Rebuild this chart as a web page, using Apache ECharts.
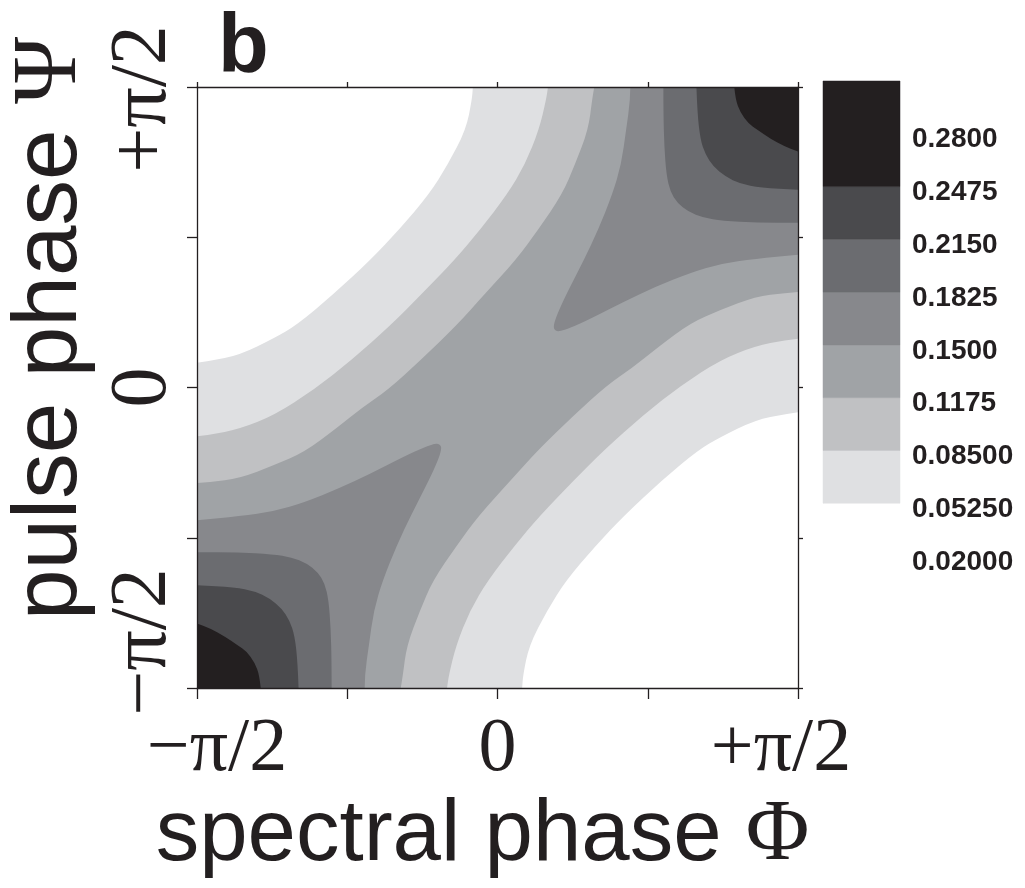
<!DOCTYPE html>
<html>
<head>
<meta charset="utf-8">
<script src="https://cdn.jsdelivr.net/npm/echarts@6/dist/echarts.min.js"></script>
<style>html,body{margin:0;padding:0;background:#fff}#c{width:1025px;height:888px}</style>
</head>
<body>
<div id="c"></div>
<script>
// ---------------- data (phases in units of pi/2) ----------------
const tickValues = [-1, -0.5, 0, 0.5, 1];
const tickText = ['\u2212\u03c0/2', '', '0', '', '+\u03c0/2'];

const levelValues = [0.02, 0.0525, 0.085, 0.1175, 0.15, 0.1825, 0.215, 0.2475, 0.28];
const levelLabels = ['0.02000', '0.05250', '0.08500', '0.1175', '0.1500', '0.1825', '0.2150', '0.2475', '0.2800'];
const colorbarMax = 0.3125;
// fill colours of the bands above 0.0525, 0.085, ... 0.2475 (last band runs to the top)
const bandColors = ['#dfe0e2', '#c0c1c3', '#a0a3a6', '#87888c', '#6b6c70', '#4a4a4d', '#231f20'];

// contour lines: [Phi, Psi]
const c0525_upperLeft = [[-0.082,1],[-0.085,0.958],[-0.105,0.858],[-0.165,0.742],[-0.228,0.642],[-0.328,0.525],[-0.422,0.425],[-0.548,0.308],[-0.668,0.208],[-0.742,0.165],[-0.858,0.108],[-0.958,0.088],[-1,0.082]];
const c0525_lowerRight = [[0.082,-1],[0.085,-0.958],[0.105,-0.858],[0.165,-0.742],[0.228,-0.642],[0.328,-0.525],[0.422,-0.425],[0.548,-0.308],[0.668,-0.208],[0.742,-0.165],[0.858,-0.108],[0.958,-0.088],[1,-0.082]];

const c085_upperLeft = [[0.168,1],[0.162,0.958],[0.138,0.858],[0.092,0.742],[0.032,0.642],[-0.058,0.525],[-0.142,0.425],[-0.255,0.308],[-0.355,0.208],[-0.485,0.092],[-0.612,-0.008],[-0.742,-0.092],[-0.858,-0.138],[-0.958,-0.158],[-1,-0.162]];
const c085_lowerRight = [[-0.168,-1],[-0.162,-0.958],[-0.138,-0.858],[-0.092,-0.742],[-0.032,-0.642],[0.058,-0.525],[0.142,-0.425],[0.255,-0.308],[0.355,-0.208],[0.485,-0.092],[0.612,0.008],[0.742,0.092],[0.858,0.138],[0.958,0.158],[1,0.162]];

const c1175_upperLeft = [[0.322,1],[0.315,0.958],[0.302,0.858],[0.258,0.742],[0.215,0.642],[0.135,0.525],[0.062,0.425],[-0.045,0.308],[-0.135,0.208],[-0.255,0.092],[-0.365,-0.008],[-0.448,-0.065],[-0.535,-0.135],[-0.642,-0.215],[-0.742,-0.258],[-0.858,-0.302],[-0.958,-0.315],[-1,-0.318]];
const c1175_lowerRight = [[-0.322,-1],[-0.315,-0.958],[-0.302,-0.858],[-0.258,-0.742],[-0.215,-0.642],[-0.135,-0.525],[-0.062,-0.425],[0.045,-0.308],[0.135,-0.208],[0.255,-0.092],[0.365,0.008],[0.448,0.065],[0.535,0.135],[0.642,0.215],[0.742,0.258],[0.858,0.302],[0.958,0.315],[1,0.318]];

const c15_upperRight = [[0.442,1],[0.442,0.958],[0.428,0.858],[0.412,0.742],[0.382,0.642],[0.335,0.525],[0.288,0.425],[0.228,0.308],[0.198,0.242],[0.186,0.205],[0.19,0.19],[0.205,0.186],[0.242,0.198],[0.308,0.228],[0.425,0.288],[0.525,0.335],[0.642,0.382],[0.742,0.412],[0.858,0.428],[1,0.442]];
const c15_lowerLeft = [[-0.442,-1],[-0.442,-0.958],[-0.428,-0.858],[-0.412,-0.742],[-0.382,-0.642],[-0.335,-0.525],[-0.288,-0.425],[-0.228,-0.308],[-0.198,-0.242],[-0.186,-0.205],[-0.19,-0.19],[-0.205,-0.186],[-0.242,-0.198],[-0.308,-0.228],[-0.425,-0.288],[-0.525,-0.335],[-0.642,-0.382],[-0.742,-0.412],[-0.858,-0.428],[-1,-0.442]];

const c1825_upperRight = [[0.552,1],[0.552,0.915],[0.555,0.802],[0.562,0.708],[0.575,0.652],[0.598,0.615],[0.635,0.585],[0.685,0.565],[0.748,0.555],[0.865,0.548],[1,0.548]];
const c1825_lowerLeft = [[-0.552,-1],[-0.552,-0.915],[-0.555,-0.802],[-0.562,-0.708],[-0.575,-0.652],[-0.598,-0.615],[-0.635,-0.585],[-0.685,-0.565],[-0.748,-0.555],[-0.865,-0.548],[-1,-0.548]];

const c215_upperRight = [[0.662,1],[0.665,0.915],[0.675,0.825],[0.692,0.775],[0.718,0.735],[0.758,0.702],[0.808,0.678],[0.875,0.665],[1,0.658]];
const c215_lowerLeft = [[-0.662,-1],[-0.665,-0.915],[-0.675,-0.825],[-0.692,-0.775],[-0.718,-0.735],[-0.758,-0.702],[-0.808,-0.678],[-0.875,-0.665],[-1,-0.658]];

const c2475_upperRight = [[0.788,1],[0.792,0.958],[0.808,0.915],[0.835,0.878],[0.865,0.858],[0.908,0.828],[0.955,0.802],[1,0.785]];
const c2475_lowerLeft = [[-0.788,-1],[-0.792,-0.958],[-0.808,-0.915],[-0.835,-0.878],[-0.865,-0.858],[-0.908,-0.828],[-0.955,-0.802],[-1,-0.785]];

// ---------------- build filled regions {f > level} ----------------
const AX_MIN = -1, AX_MAX = 1;
const TR = [AX_MAX, AX_MAX], BL = [AX_MIN, AX_MIN];
function band(ul, lr) {   // diagonal band between an upper-left and a lower-right contour
  return [
    { pts: [ul[0], TR], smooth: false },
    { pts: lr.slice().reverse(), smooth: true },
    { pts: [BL], smooth: false },
    { pts: ul.slice().reverse(), smooth: true }
  ];
}
function corner(c, cornerPt) {
  return [{ pts: c, smooth: true }, { pts: [cornerPt], smooth: false }];
}
const regions = [
  { color: bandColors[0], parts: band(c0525_upperLeft, c0525_lowerRight) },
  { color: bandColors[1], parts: band(c085_upperLeft, c085_lowerRight) },
  { color: bandColors[2], parts: band(c1175_upperLeft, c1175_lowerRight) },
  { color: bandColors[3], parts: corner(c15_upperRight, TR) },
  { color: bandColors[3], parts: corner(c15_lowerLeft, BL) },
  { color: bandColors[4], parts: corner(c1825_upperRight, TR) },
  { color: bandColors[4], parts: corner(c1825_lowerLeft, BL) },
  { color: bandColors[5], parts: corner(c215_upperRight, TR) },
  { color: bandColors[5], parts: corner(c215_lowerLeft, BL) },
  { color: bandColors[6], parts: corner(c2475_upperRight, TR) },
  { color: bandColors[6], parts: corner(c2475_lowerLeft, BL) }
];

function buildPath(parts, api) {
  let d = '';
  const f = (p) => p[0].toFixed(2) + ' ' + p[1].toFixed(2);
  parts.forEach(part => {
    const pts = part.pts.map(p => api.coord(p));
    if (part.smooth && pts.length > 2) {
      d += (d ? 'L' : 'M') + f(pts[0]);
      for (let k = 1; k < pts.length - 1; k++) {
        const m = [(pts[k][0] + pts[k + 1][0]) / 2, (pts[k][1] + pts[k + 1][1]) / 2];
        d += 'Q' + f(pts[k]) + ' ' + f(m);
      }
      d += 'L' + f(pts[pts.length - 1]);
    } else {
      pts.forEach(p => { d += (d ? 'L' : 'M') + f(p); });
    }
  });
  return d + 'Z';
}

// colorbar bands
const cbBands = bandColors.map((c, k) => ({
  lo: levelValues[k + 1],
  hi: (k === bandColors.length - 1) ? colorbarMax : levelValues[k + 2],
  color: c
}));

const INK = '#231f20';
const SERIF = "'Liberation Serif', 'Times New Roman', serif";
const SANS = "'Liberation Sans', Arial, Helvetica, sans-serif";

function tickFmt(v) {
  const i = tickValues.findIndex(t => Math.abs(t - v) < 1e-9);
  if (i < 0 || !tickText[i]) return '';
  if (i === 0) return '{lo|' + tickText[i] + '}';
  if (i === tickValues.length - 1) return '{hi|' + tickText[i] + '}';
  return '{mid|' + tickText[i] + '}';
}
const xTickFont = { fontFamily: SERIF, fontSize: 76, color: INK };
const yTickFont = { fontFamily: SERIF, fontSize: 80, color: INK };
const cbFont = { fontFamily: SANS, fontWeight: 'bold', fontSize: 28, color: INK };

const chart = echarts.init(document.getElementById('c'), null, { renderer: 'canvas' });
chart.setOption({
  backgroundColor: '#ffffff',
  animation: false,
  title: {
    text: 'b', left: 213, top: 3,
    textStyle: { fontFamily: SANS, fontWeight: 'bold', fontSize: 83, color: INK }
  },
  grid: [
    { left: 197, top: 87, width: 601, height: 601, outerBoundsMode: 'none', containLabel: false },
    { left: 823, top: 81, width: 77, height: 475, outerBoundsMode: 'none', containLabel: false }
  ],
  xAxis: [
    {
      type: 'value', gridIndex: 0, min: AX_MIN, max: AX_MAX, interval: 0.5, position: 'bottom', z: 10,
      axisLine: { show: true, onZero: false, lineStyle: { color: INK, width: 1.3 } },
      axisTick: { show: true, inside: false, length: 11, lineStyle: { color: INK, width: 1.3 } },
      splitLine: { show: false },
      axisLabel: {
        show: true, showMinLabel: true, showMaxLabel: true, margin: 24, formatter: tickFmt,
        rich: {
          lo: Object.assign({ padding: [0, 0, 0, 40] }, xTickFont),
          mid: Object.assign({}, xTickFont),
          hi: Object.assign({ padding: [0, 34, 0, 0] }, xTickFont)
        }
      },
      name: '{a|spectral phase }{b|\u03a6}', nameLocation: 'middle', nameGap: 100,
      nameTextStyle: {
        padding: [0, 30, 0, 0],
        rich: {
          a: { fontFamily: SANS, fontSize: 87, color: INK },
          b: { fontFamily: SERIF, fontSize: 87, color: INK }
        }
      }
    },
    {
      type: 'value', gridIndex: 0, min: AX_MIN, max: AX_MAX, interval: 0.5, position: 'top', z: 10,
      axisLine: { show: true, onZero: false, lineStyle: { color: INK, width: 1.3 } },
      axisTick: { show: true, inside: false, length: 5, lineStyle: { color: INK, width: 1.3 } },
      axisLabel: { show: false }, splitLine: { show: false }
    },
    { type: 'value', gridIndex: 1, min: 0, max: 1, show: false }
  ],
  yAxis: [
    {
      type: 'value', gridIndex: 0, min: AX_MIN, max: AX_MAX, interval: 0.5, position: 'left', z: 10,
      axisLine: { show: true, onZero: false, lineStyle: { color: INK, width: 1.3 } },
      axisTick: { show: true, inside: false, length: 10, lineStyle: { color: INK, width: 1.3 } },
      splitLine: { show: false },
      axisLabel: {
        show: true, showMinLabel: true, showMaxLabel: true, rotate: 90, margin: 13, formatter: tickFmt,
        rich: {
          lo: Object.assign({ padding: [0, 0, 0, 92] }, yTickFont),
          mid: Object.assign({}, yTickFont),
          hi: Object.assign({ padding: [0, 24, 0, 0] }, yTickFont)
        }
      },
      name: '{a|pulse phase }{b|\u03a8}', nameLocation: 'middle', nameGap: 82,
      nameTextStyle: {
        padding: [0, 0, 0, 118],
        rich: {
          a: { fontFamily: SANS, fontSize: 91, color: INK },
          b: { fontFamily: SERIF, fontSize: 91, color: INK }
        }
      }
    },
    {
      type: 'value', gridIndex: 0, min: AX_MIN, max: AX_MAX, interval: 0.5, position: 'right', z: 10,
      axisLine: { show: true, onZero: false, lineStyle: { color: INK, width: 1.3 } },
      axisTick: { show: true, inside: false, length: 5, lineStyle: { color: INK, width: 1.3 } },
      axisLabel: { show: false }, splitLine: { show: false }
    },
    {
      type: 'value', gridIndex: 1, min: levelValues[0], max: colorbarMax, position: 'right',
      axisLine: { show: false }, axisTick: { show: false }, splitLine: { show: false },
      axisLabel: {
        show: true, margin: 12, customValues: levelValues,
        formatter: (v) => {
          const i = levelValues.findIndex(t => Math.abs(t - v) < 1e-9);
          return i >= 0 ? '{l|' + levelLabels[i] + '}' : '';
        },
        rich: { l: Object.assign({ padding: [12, 0, 0, 0] }, cbFont) }
      }
    }
  ],
  series: [
    {
      type: 'custom', coordinateSystem: 'cartesian2d', xAxisIndex: 0, yAxisIndex: 0,
      clip: true, silent: true,
      data: regions.map((r, i) => [0, 0, i]),
      renderItem: (params, api) => {
        const r = regions[params.dataIndex];
        return {
          type: 'path',
          shape: { pathData: buildPath(r.parts, api) },
          style: { fill: r.color, stroke: null }
        };
      }
    },
    {
      type: 'custom', coordinateSystem: 'cartesian2d', xAxisIndex: 2, yAxisIndex: 2,
      silent: true,
      data: cbBands.map((b, i) => [0, b.lo, i]),
      renderItem: (params, api) => {
        const b = cbBands[params.dataIndex];
        const p0 = api.coord([0, b.hi]);
        const p1 = api.coord([1, b.lo]);
        return {
          type: 'rect',
          shape: { x: p0[0], y: p0[1], width: p1[0] - p0[0], height: p1[1] - p0[1] },
          style: { fill: b.color, stroke: b.color, lineWidth: 0.5 }
        };
      }
    }
  ]
});
</script>
</body>
</html>
